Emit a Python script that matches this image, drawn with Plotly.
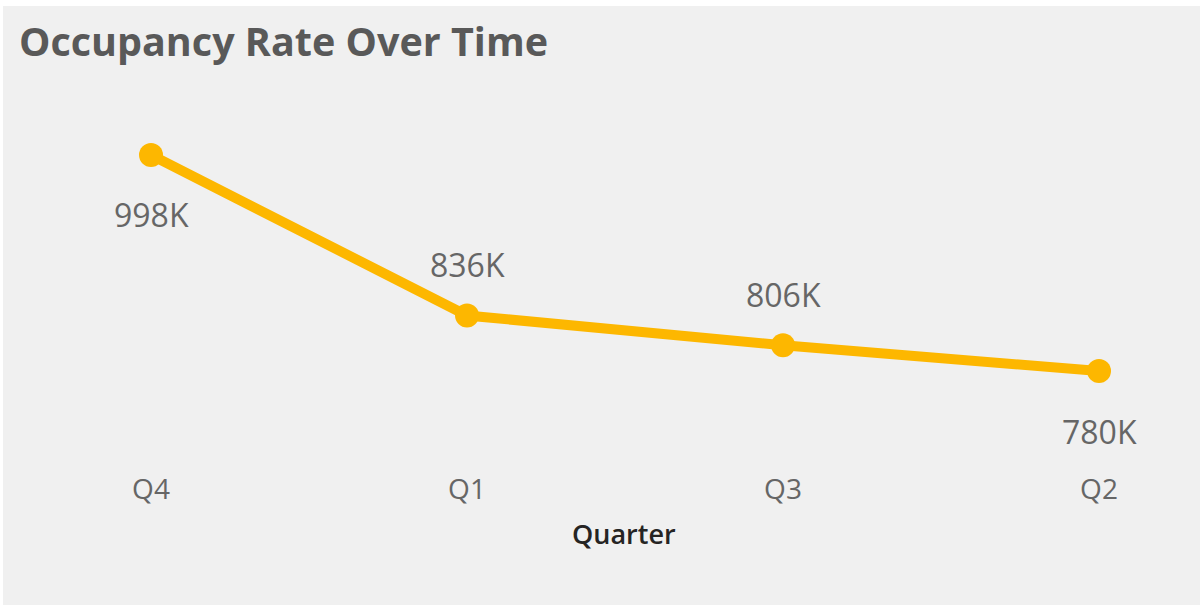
import plotly.graph_objects as go

quarters = ["Q4", "Q1", "Q3", "Q2"]
values = [998, 836, 806, 780]  # thousands
labels = ["998K", "836K", "806K", "780K"]
label_side = [-1, 1, 1, -1]  # -1 below, 1 above

W, H = 1200, 607
L, R, T, B = 40, 20, 100, 137  # plot area px 40..1180, 100..470
xr = [-0.3513, 3.2563]
yr = [680.1, 1053.5]

color = "#FDB700"
fig = go.Figure()
fig.add_trace(go.Scatter(
    x=quarters, y=values, mode="lines+markers",
    line=dict(color=color, width=10),
    marker=dict(color=color, size=24),
    hoverinfo="skip", showlegend=False,
))

for q, v, t, s in zip(quarters, values, labels, label_side):
    fig.add_annotation(x=q, y=v, text=t, showarrow=False,
                       yshift=51 if s > 0 else -60,
                       font=dict(family="Open Sans", size=32, color="#666666"))

pw = W - L - R
ph = H - T - B
fig.add_shape(type="rect", xref="paper", yref="paper", layer="below",
              x0=(3 - L) / pw, x1=(W - L) / pw,
              y0=(H - B - 605) / ph, y1=(H - B - 6) / ph,
              fillcolor="#f0f0f0", line=dict(width=0))

# x-axis title, placed as in the reference (slightly right of centre)
fig.add_annotation(xref="paper", yref="paper", x=(624 - L) / pw, y=(H - B - 533) / ph,
                   text="Quarter", showarrow=False, xanchor="center", yanchor="middle",
                   font=dict(family="Open Sans", size=27, color="#252423", weight=600))

fig.update_layout(
    width=W, height=H,
    margin=dict(l=L, r=R, t=T, b=B),
    paper_bgcolor="white", plot_bgcolor="rgba(0,0,0,0)",
    title=dict(text="<b>Occupancy Rate Over Time</b>", x=19 / W, xref="container", xanchor="left",
               y=1 - 42 / H, yref="container", yanchor="middle",
               font=dict(family="Open Sans", size=39.5, color="#595959")),
    xaxis=dict(type="category", range=xr, showgrid=False, zeroline=False, showline=False,
               ticks="", tickfont=dict(family="Open Sans", size=28, color="#666666")),
    yaxis=dict(range=yr, visible=False, showgrid=False, zeroline=False),
)

fig.write_html("out.html", config={"displayModeBar": False},
               post_script="document.body.style.margin='0';")
